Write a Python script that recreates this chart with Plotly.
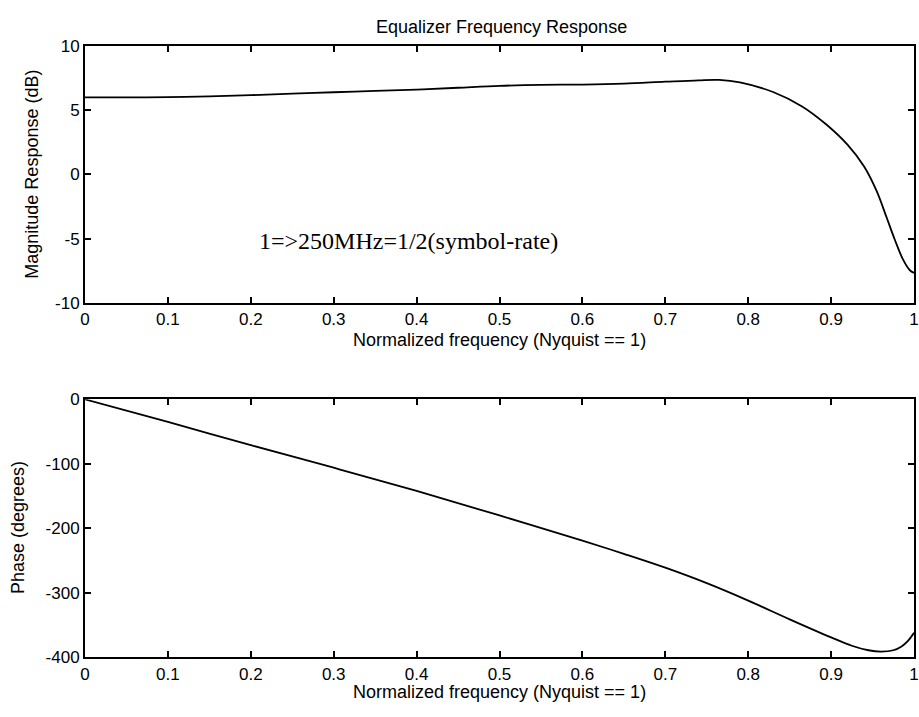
import plotly.graph_objects as go

# ---- data ----
mag_freq = [0.0, 0.05, 0.1, 0.15, 0.2, 0.25, 0.3, 0.35, 0.4, 0.45, 0.5, 0.55, 0.6, 0.65,
            0.7, 0.74, 0.765, 0.79, 0.83, 0.865, 0.895, 0.92, 0.94, 0.955, 0.967, 0.977,
            0.987, 0.995, 1.0]
mag_db = [6.0, 6.0, 6.02, 6.08, 6.17, 6.3, 6.4, 6.5, 6.6, 6.75, 6.9, 6.98, 7.0, 7.07,
          7.22, 7.33, 7.36, 7.17, 6.42, 5.3, 3.85, 2.3, 0.6, -1.3, -3.35, -5.1,
          -6.65, -7.45, -7.65]

ph_freq = [0.0, 0.1, 0.2, 0.3, 0.4, 0.5, 0.6, 0.65, 0.7, 0.75, 0.8, 0.85, 0.9, 0.925,
           0.945, 0.96, 0.975, 0.985, 0.993, 1.0]
ph_deg = [0, -35, -71, -106, -142, -180, -219, -239.5, -261, -285, -312, -341, -369, -382,
          -389, -391, -389, -383, -374, -362]

x_ticks = [0, 0.1, 0.2, 0.3, 0.4, 0.5, 0.6, 0.7, 0.8, 0.9, 1]
x_ticktext = ["0", "0.1", "0.2", "0.3", "0.4", "0.5", "0.6", "0.7", "0.8", "0.9", "1"]
mag_ticks = [-10, -5, 0, 5, 10]
mag_ticktext = ["-10", "-5", "0", "5", "10"]
ph_ticks = [-400, -300, -200, -100, 0]
ph_ticktext = ["-400", "-300", "-200", "-100", "0"]

title_text = "Equalizer Frequency Response"
xlabel = "Normalized frequency (Nyquist == 1)"
ylabel_mag = "Magnitude Response (dB)"
ylabel_ph = "Phase (degrees)"
note_text = "1=>250MHz=1/2(symbol-rate)"

# ---- layout helpers ----
W, H = 919, 717
L, R = 85, 917


def py(p):
    return 1 - p / H


def px(p):
    return (p - L) / (R - L)


fig = go.Figure()
fig.add_trace(go.Scatter(x=mag_freq, y=mag_db, mode="lines",
                         line=dict(color="black", width=1.8, shape="spline", smoothing=1.0),
                         xaxis="x", yaxis="y", showlegend=False))
fig.add_trace(go.Scatter(x=ph_freq, y=ph_deg, mode="lines",
                         line=dict(color="black", width=1.8, shape="spline", smoothing=1.0),
                         xaxis="x2", yaxis="y2", showlegend=False))

tickfont = dict(family="Liberation Sans, Arial, sans-serif", size=17, color="black")
axis_common = dict(showline=True, linecolor="black", linewidth=2, mirror="allticks",
                   ticks="inside", ticklen=6, tickwidth=1.5, tickcolor="black",
                   showgrid=False, zeroline=False, tickfont=tickfont, fixedrange=True,
                   ticklabeloverflow="allow")

fig.update_layout(
    width=W, height=H,
    margin=dict(l=L, r=W - R, t=0, b=0),
    paper_bgcolor="white", plot_bgcolor="white",
    xaxis=dict(domain=[0, 1], range=[0, 1], anchor="y", tickvals=x_ticks,
               ticktext=x_ticktext, **axis_common),
    yaxis=dict(domain=[py(302), py(38)], range=[-10, 10], anchor="x", tickvals=mag_ticks,
               ticktext=mag_ticktext, **axis_common),
    xaxis2=dict(domain=[0, 1], range=[0, 1], anchor="y2", tickvals=x_ticks,
                ticktext=x_ticktext, **axis_common),
    yaxis2=dict(domain=[py(666), py(401)], range=[-400, 0], anchor="x2", tickvals=ph_ticks,
                ticktext=ph_ticktext, **axis_common),
)

lab_font = dict(family="Liberation Sans, Arial, sans-serif", size=18, color="black")
annots = [
    dict(text=title_text, x=px(503), y=py(18), font=lab_font),
    dict(text=xlabel, x=px(501), y=py(340), font=lab_font),
    dict(text=xlabel, x=px(501), y=py(702), font=lab_font),
    dict(text=ylabel_mag, x=px(32), y=py(170), font=lab_font, textangle=-90),
    dict(text=ylabel_ph, x=px(18), y=py(533), font=lab_font, textangle=-90),
]
for a in annots:
    fig.add_annotation(xref="paper", yref="paper", showarrow=False,
                       xanchor="center", yanchor="middle", **a)

fig.add_annotation(xref="x", yref="y", x=0.208, y=10 - (238 - 38) / 13.2,
                   text=note_text, showarrow=False, xanchor="left", yanchor="middle",
                   font=dict(family="Liberation Serif, Times New Roman, serif", size=24,
                             color="black"))

fig.write_html("out.html")
